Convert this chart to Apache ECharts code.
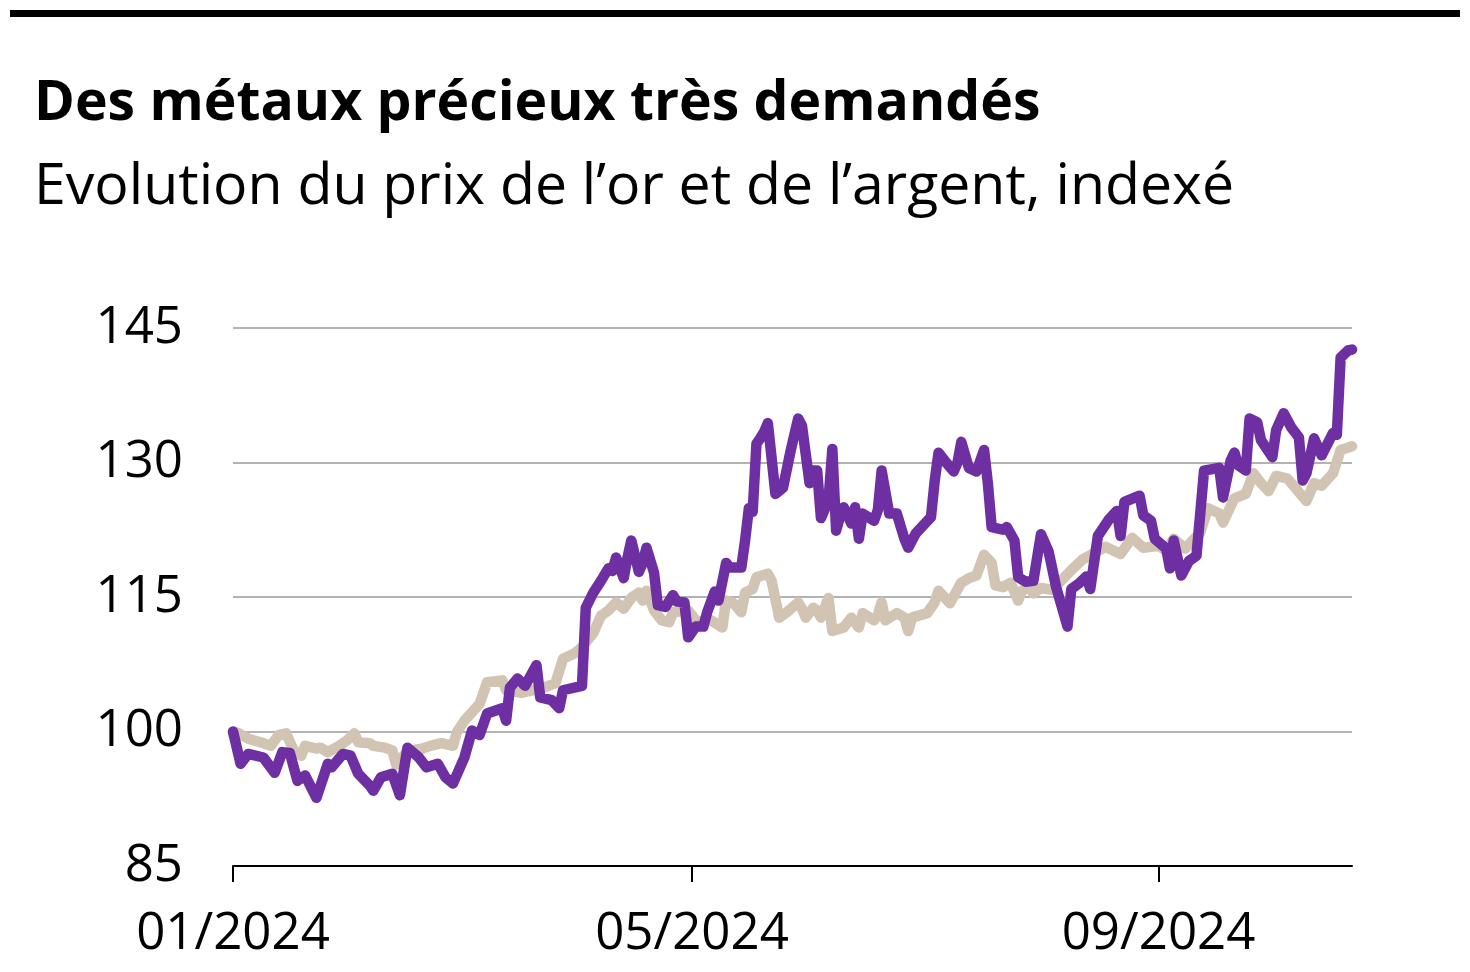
<!DOCTYPE html>
<html>
<head>
<meta charset="utf-8">
<script src="https://cdn.jsdelivr.net/npm/echarts@6/dist/echarts.min.js"></script>
<style>
html,body{margin:0;padding:0;background:#fff;}
#chart{width:1470px;height:972px;}
</style>
</head>
<body>
<div id="chart"></div>
<script>
// Days since 1 Jan 2024 and indexed values
var silverDays = [0,2,4,8,11,13,15,17,19,22,25,26,29,31,33,36,37,39,42,44,46,49,51,54,56,58,61,63,65,67,71,72,73,75,77,80,81,84,86,87,92,93,95,97,99,100,101,103,104,105,107,108,109,111,112,114,116,117,119,120,122,124,125,127,128,130,131,134,135,136,137,138,139,140,141,143,145,147,149,150,152,153,154,155,157,158,159,160,161,163,164,165,166,169,170,171,173,175,177,178,180,184,185,186,188,190,191,192,194,196,198,199,200,203,204,206,207,209,211,213,215,217,220,221,223,225,226,228,231,233,234,235,239,240,242,243,246,247,248,250,252,254,256,260,261,263,264,265,267,268,270,271,274,275,277,279,281,282,283,285,287,290,291,292,294,295];
var silverValues = [100.0,96.4,97.5,97.1,95.4,97.7,97.6,94.5,95.1,92.6,96.4,96.0,97.5,97.3,95.3,94.0,93.4,94.9,95.3,92.9,98.2,97.1,96.0,96.4,94.9,94.2,97.1,100.1,99.6,102.0,102.6,101.2,104.9,105.9,105.1,107.4,103.8,103.5,102.6,104.6,105.1,113.8,115.5,116.8,118.2,117.9,119.4,117.1,119.4,121.3,117.8,118.8,120.5,117.7,114.1,113.9,115.2,114.5,114.4,110.5,111.7,111.7,113.3,115.6,114.6,118.8,118.3,118.3,121.3,124.9,124.5,132.1,132.7,133.4,134.4,126.5,127.2,131.3,134.9,134.1,127.7,129.1,129.1,123.8,125.8,131.5,122.4,123.9,125.0,123.2,125.0,121.5,124.3,123.5,124.7,129.1,124.3,124.3,121.5,120.5,122.1,123.9,128.0,131.1,130.0,129.0,130.0,132.3,129.4,129.0,131.4,127.7,122.8,122.5,122.8,121.3,117.2,116.7,116.8,122.0,120.1,116.1,111.7,115.9,116.5,117.3,115.9,121.8,123.7,124.6,121.8,125.6,126.3,124.1,123.5,121.5,120.4,118.2,121.3,117.4,119.0,119.6,129.1,129.4,126.1,130.2,131.1,129.7,129.1,134.9,134.5,132.5,130.6,133.6,135.5,133.9,132.8,128.0,128.8,132.7,130.8,133.3,133.1,141.7,142.5,142.6];

var goldDays = [0,1,4,8,10,12,14,16,18,19,22,23,25,28,30,32,33,36,37,40,42,43,46,50,52,55,58,59,61,65,67,71,72,76,82,85,87,90,92,95,97,99,101,103,105,107,108,109,111,113,115,116,120,122,124,126,129,130,132,134,135,137,138,141,142,144,146,149,150,151,153,154,155,157,158,161,163,165,166,169,170,171,172,175,177,178,179,183,185,186,189,192,194,196,198,200,201,203,205,207,208,210,211,213,216,219,221,224,230,234,237,240,244,246,248,251,255,257,260,261,264,267,269,271,273,275,278,279,283,285,287,290,292,295];
var goldValues = [99.8,99.9,99.2,98.7,98.4,99.6,99.8,97.9,97.3,98.4,98.1,98.2,97.7,98.4,99.0,99.8,98.8,98.7,98.4,98.2,97.9,96.3,97.8,98.1,98.4,98.7,98.4,99.9,101.2,103.1,105.5,105.7,104.6,104.3,104.9,105.4,108.1,108.7,109.4,111.0,112.9,113.5,114.4,113.7,114.9,115.5,114.6,115.7,113.5,112.4,112.2,113.3,113.5,112.4,112.2,112.4,111.6,114.6,114.3,113.3,115.5,115.9,117.2,117.6,116.8,112.7,113.3,114.4,113.7,112.7,113.8,113.5,112.7,114.9,111.2,111.6,112.7,111.6,113.2,112.4,113.0,114.4,112.4,113.2,112.7,111.2,112.7,113.2,114.4,115.7,114.3,116.6,117.1,117.4,119.7,118.8,116.3,116.1,116.6,114.6,115.7,116.1,115.4,116.0,115.8,117.1,118.0,119.2,120.6,119.8,121.6,120.5,120.7,120.2,121.5,120.4,122.2,124.9,124.3,123.3,126.0,126.5,128.8,127.7,126.8,128.5,128.2,127.7,125.7,127.7,127.4,128.8,131.4,131.8];

// x-axis tick positions (days since 1 Jan 2024) and their labels
var tickDays = [0,121,244];
var tickLabels = ['01/2024','05/2024','09/2024'];
var lastDay = 295;
var titleText = 'Des métaux précieux très demandés';
var subtitleText = 'Evolution du prix de l\u2019or et de l\u2019argent, indexé';

function pairs(days, vals){ return days.map(function(d,i){ return [d, vals[i]]; }); }

var FONT = 'Open Sans';
var chart = echarts.init(document.getElementById('chart'), null, {renderer:'canvas'});
chart.setOption({
  animation:false,
  backgroundColor:'#ffffff',
  title:[
    {text:titleText, left:29, top:72, textStyle:{fontFamily:FONT, fontWeight:'bold', fontSize:55.3, color:'#000'}},
    {text:subtitleText, left:29, top:154, textStyle:{fontFamily:FONT, fontWeight:'normal', fontSize:57.2, color:'#000'}}
  ],
  graphic:[
    {type:'rect', shape:{x:10, y:10, width:1450, height:7}, style:{fill:'#000'}}
  ],
  grid:{left:233, right:118, top:328, bottom:106, containLabel:false},
  xAxis:{
    type:'value',
    min:0, max:lastDay,
    axisLine:{show:true, lineStyle:{color:'#000', width:2}},
    axisTick:{show:true, customValues:tickDays, length:16, lineStyle:{color:'#000', width:2}},
    axisLabel:{customValues:tickDays, fontFamily:FONT, fontSize:51, color:'#000', margin:43,
      formatter:function(v){ var i=tickDays.indexOf(Math.round(v)); return i>=0?tickLabels[i]:''; }},
    splitLine:{show:false}
  },
  yAxis:{
    type:'value', min:85, max:145, interval:15,
    axisLine:{show:false}, axisTick:{show:false},
    axisLabel:{fontFamily:FONT, fontSize:51, color:'#000', margin:50},
    splitLine:{show:true, lineStyle:{color:'#b3b3b3', width:2}}
  },
  series:[
    {name:'Or', type:'line', data:pairs(goldDays, goldValues), showSymbol:false, z:2,
      lineStyle:{color:'#d1c4b3', width:10.5, join:'round', cap:'round'}},
    {name:'Argent', type:'line', data:pairs(silverDays, silverValues), showSymbol:false, z:3,
      lineStyle:{color:'#6e2fa2', width:10.5, join:'round', cap:'round'}}
  ]
});
</script>
</body>
</html>
